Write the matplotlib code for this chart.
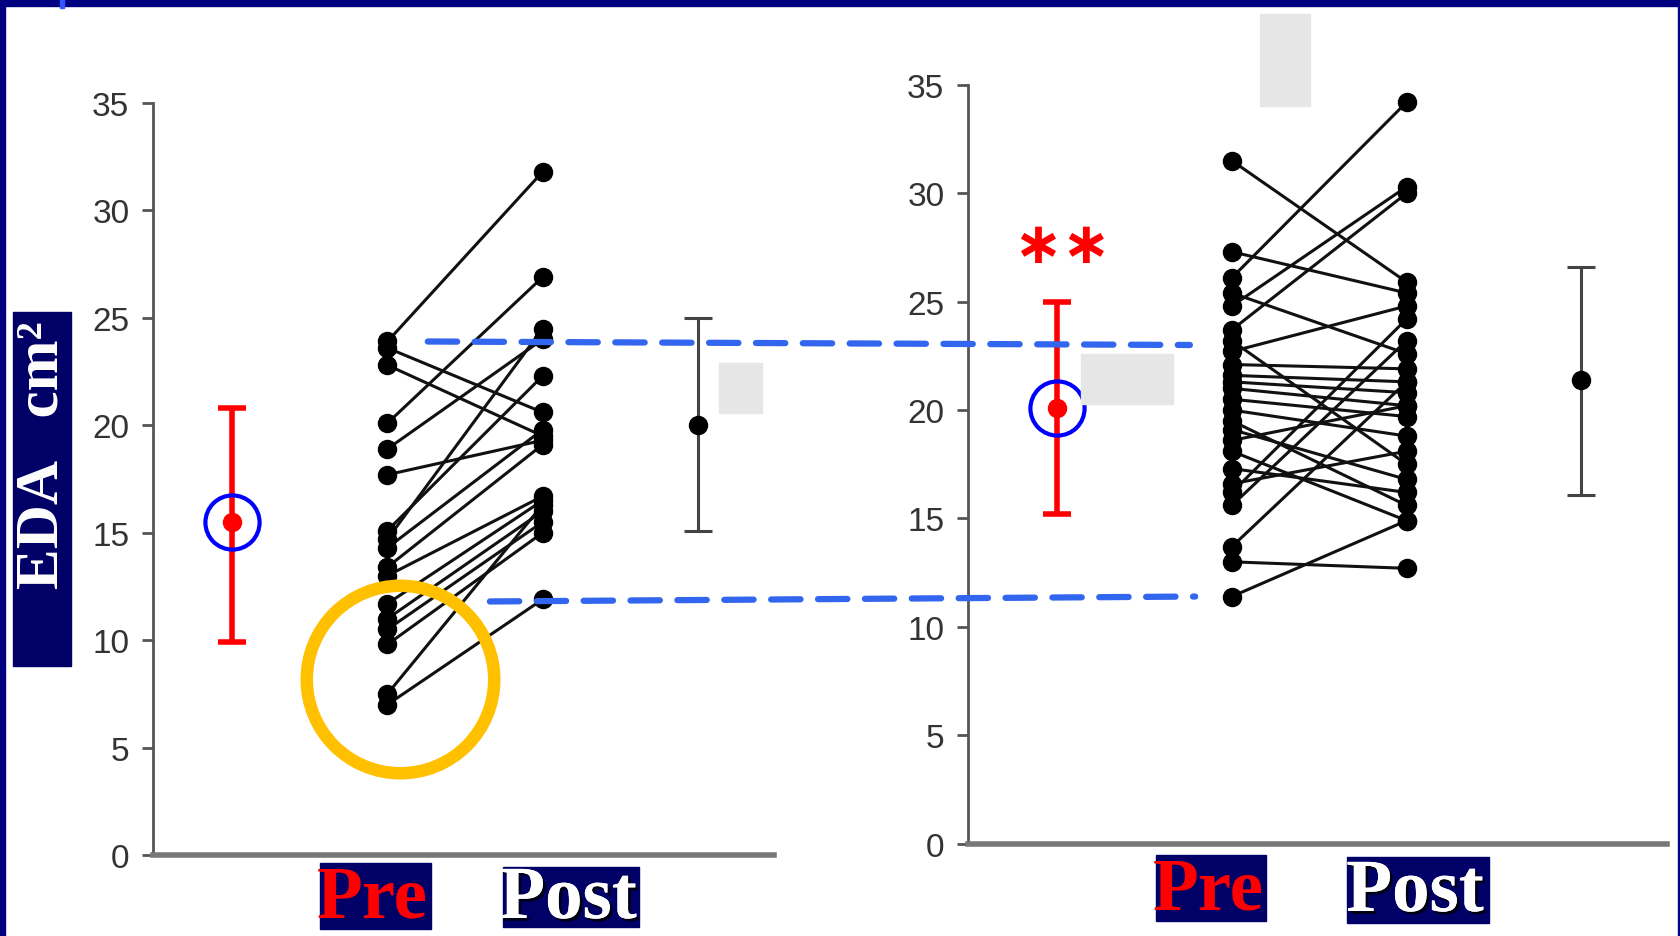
import matplotlib.pyplot as plt
import matplotlib.patches as patches
import matplotlib.patheffects as pe
from matplotlib.patches import ConnectionPatch

W, H = 1681, 937
NAVY = '#000066'
AXGRAY = '#555555'

# left panel: paired values (pre -> post)
left_pre = [23.9, 23.6, 22.8, 20.1, 18.9, 17.7, 15.1, 14.7, 14.3, 13.4,
            13.0, 11.7, 11.0, 10.5, 9.8, 7.5, 7.0]
left_post = [31.8, 20.6, 19.5, 26.9, 24.0, 19.3, 22.3, 24.5, 19.8, 19.1,
             16.7, 16.5, 16.0, 15.5, 15.0, 16.3, 11.9]
left_red = (15.5, 9.9, 20.8)     # mean, low, high
left_black = (20.0, 15.1, 25.0)

# right panel
right_pre = [31.5, 27.3, 26.1, 25.4, 24.8, 23.7, 23.2, 22.7, 22.1, 21.6,
             21.3, 21.0, 20.5, 20.0, 19.5, 19.1, 18.6, 18.1, 17.3, 16.2,
             15.6, 13.7, 13.0, 11.4, 16.6]
right_post = [25.9, 25.4, 34.2, 22.6, 30.3, 30.0, 17.5, 24.8, 21.9, 21.3,
              20.8, 20.2, 19.7, 18.8, 15.6, 16.8, 20.2, 14.9, 16.2, 24.2,
              23.2, 21.3, 12.7, 14.9, 18.1]
right_red = (20.1, 15.2, 25.0)
right_black = (21.4, 16.1, 26.6)

yticks = [0, 5, 10, 15, 20, 25, 30, 35]

fig = plt.figure(figsize=(W / 100, H / 100), dpi=100)
fig.patch.set_facecolor('white')

axL = fig.add_axes([153 / W, 1 - 856 / H, (774 - 153) / W, (856 - 104) / H])
axR = fig.add_axes([968 / W, 1 - 844.7 / H, (1667 - 968) / W, (844.7 - 85.8) / H])


def panel(ax, pre, post, red, black):
    ax.set_xlim(-0.51, 3.49)
    ax.set_ylim(0, 35)
    for a, b in zip(pre, post):
        ax.plot([1, 2], [a, b], color='#111111', lw=2.2, zorder=3)
    ax.plot([1] * len(pre), pre, 'o', color='black', ms=13, zorder=4)
    ax.plot([2] * len(post), post, 'o', color='black', ms=13, zorder=4)
    m, lo, hi = red
    ax.errorbar([0], [m], yerr=[[m - lo], [hi - m]], fmt='o', color='red',
                ms=13, lw=4, capsize=10, capthick=4, zorder=5)
    ax.plot([0], [m], 'o', ms=39, mfc='none', mec='#0000ff', mew=3, zorder=6,
            clip_on=False)
    m, lo, hi = black
    ax.errorbar([3], [m], yerr=[[m - lo], [hi - m]], fmt='o', color='black',
                ecolor='#444444', ms=13, lw=2.2, capsize=10, capthick=2.2, zorder=5)
    for s in ['top', 'right']:
        ax.spines[s].set_visible(False)
    ax.spines['left'].set_color(AXGRAY)
    ax.spines['left'].set_linewidth(2)
    ax.spines['bottom'].set_color('#777777')
    ax.spines['bottom'].set_linewidth(4)
    ax.set_yticks(yticks)
    ax.set_yticklabels([str(t) for t in yticks], fontsize=24, color='#333333',
                       family='Liberation Sans')
    ax.tick_params(axis='y', direction='out', length=8, width=2, color=AXGRAY, pad=9)
    ax.set_xticks([])
    ax.patch.set_alpha(0)


panel(axL, left_pre, left_post, left_red, left_black)
panel(axR, right_pre, right_post, right_red, right_black)

# yellow ring around the low pre values
axL.plot([1.08], [8.2], 'o', ms=135, mfc='none', mec='#FFC000', mew=9,
         zorder=7, clip_on=False)

# ** significance
axR.text(0.03, 27.6, '\u2217\u2217', color='red', fontsize=42, ha='center', va='center',
         family='DejaVu Sans', weight='bold', zorder=7)

# dashed blue guide lines between panels
for (xa, ya, xb, yb) in [(1.26, 23.9, 0.76, 23.0), (1.66, 11.8, 0.79, 11.4)]:
    con = ConnectionPatch(xyA=(xa, ya), coordsA=axL.transData,
                          xyB=(xb, yb), coordsB=axR.transData,
                          color='#3366ee', lw=4.5, linestyle=(0, (4.7, 2.8)),
                          zorder=8)
    fig.add_artist(con)

# overlay for slide decorations (pixel coords)
ov = fig.add_axes([0, 0, 1, 1], zorder=10)
ov.set_xlim(0, W)
ov.set_ylim(H, 0)
ov.axis('off')
ov.patch.set_alpha(0)

# grey cover boxes
for (x0, y0, x1, y1) in [(719, 364, 762, 414), (1081, 355, 1173, 405), (1260, 15, 1310, 107)]:
    ov.add_patch(patches.Rectangle((x0, y0), x1 - x0, y1 - y0, color='#e6e6e6', zorder=1))

# slide border
ov.add_patch(patches.Rectangle((0, 0), W, 7, color='#000080', zorder=2))
ov.add_patch(patches.Rectangle((0, 0), 5, H, color='#000080', zorder=2))
ov.add_patch(patches.Rectangle((W - 3, 0), 3, H, color='#000080', zorder=2))
ov.add_patch(patches.Rectangle((60, 0), 4, 9, color='#3355ff', zorder=3))

# EDA label
ov.add_patch(patches.Rectangle((13, 313), 58, 354, color=NAVY, zorder=2))
ov.text(43, 455, 'EDA   cm\u00b2', color='white', fontsize=44, rotation=90,
        ha='center', va='center', family='Liberation Serif', weight='bold', zorder=3)

# Pre / Post labels
shadow = [pe.withSimplePatchShadow(offset=(2, -2), shadow_rgbFace='black', alpha=0.8), pe.Normal()]
labels = [('Pre', 'red', (320, 864, 111, 66)),
          ('Post', 'white', (503, 868, 136, 60)),
          ('Pre', 'red', (1156, 856, 110, 66)),
          ('Post', 'white', (1347, 858, 142, 66))]
for txt, col, (x0, y0, w, h) in labels:
    ov.add_patch(patches.Rectangle((x0, y0), w, h, color=NAVY, zorder=2))
    t = ov.text(x0 + w / 2 - 3, y0 + h / 2 + 3, txt, color=col, fontsize=54, ha='center',
                va='center', family='Liberation Serif', weight='bold', zorder=3)
    if col == 'white':
        t.set_path_effects(shadow)

fig.savefig('out.png', dpi=100)
